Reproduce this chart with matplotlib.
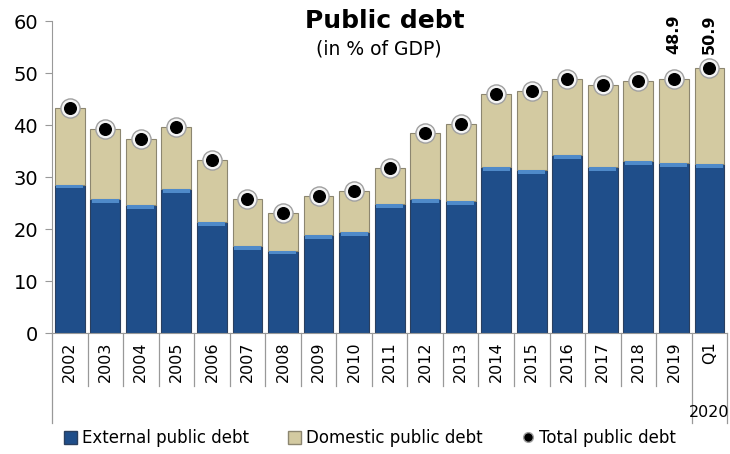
import matplotlib
matplotlib.use("Agg")
import matplotlib.pyplot as plt
import matplotlib.transforms as mtransforms
from matplotlib.lines import Line2D
from matplotlib.patches import Patch
import numpy as np

categories = ["2002", "2003", "2004", "2005", "2006", "2007", "2008", "2009", "2010",
              "2011", "2012", "2013", "2014", "2015", "2016", "2017", "2018", "2019", "Q1"]
external = [28.5, 25.7, 24.6, 27.6, 21.3, 16.7, 15.8, 18.8, 19.4,
            24.8, 25.7, 25.4, 31.9, 31.3, 34.2, 31.9, 33.1, 32.7, 32.5]
total = [43.3, 39.2, 37.4, 39.7, 33.2, 25.8, 23.1, 26.3, 27.3,
         31.8, 38.5, 40.2, 45.9, 46.6, 48.8, 47.6, 48.5, 48.9, 50.9]
domestic = [t - e for t, e in zip(total, external)]
labelled = {17: "48.9", 18: "50.9"}
group_label = "2020"

blue = "#1F4E8A"
blue_hi = "#4F8AC9"
tan = "#D3CAA1"
edge = "#8C8670"

fig = plt.figure(figsize=(7.3, 4.54), dpi=100)
ax = fig.add_axes([0.0712, 0.2665, 0.925, 0.6872])
x = np.arange(len(categories))
w = 0.84
ax.bar(x, external, width=w, color=blue, edgecolor="#2A3F5F", linewidth=0.8, zorder=2)
ax.bar(x, [0.7] * len(x), bottom=[e - 0.7 for e in external], width=w - 0.08,
       color=blue_hi, linewidth=0, zorder=3)
ax.bar(x, domestic, bottom=external, width=w, color=tan, edgecolor=edge, linewidth=0.8, zorder=2)
ax.scatter(x, total, s=190, color="#F4F4F4", edgecolor="#A0A0A0", linewidth=1.0, zorder=4)
ax.scatter(x, total, s=70, color="black", zorder=5)

ax.set_xlim(-0.5, len(categories) - 0.5)
ax.set_ylim(0, 60)
ax.set_yticks(range(0, 61, 10))
ax.tick_params(axis="y", labelsize=14, length=5, color="#999999", pad=5)
ax.set_xticks(x)
ax.set_xticklabels(categories, rotation=90, fontsize=11.5)
ax.tick_params(axis="x", length=0, pad=6)
for s in ["top", "right"]:
    ax.spines[s].set_visible(False)
ax.spines["left"].set_color("#999999")
ax.spines["bottom"].set_color("#999999")

trans = mtransforms.blended_transform_factory(ax.transData, ax.transAxes)
for b in np.arange(-0.5, len(categories), 1.0):
    ylow = -0.29 if b in (-0.5, len(categories) - 1.5, len(categories) - 0.5) else -0.17
    ax.plot([b, b], [0, ylow], transform=trans, color="#999999", lw=0.9, clip_on=False)
ax.text(len(categories) - 1, -0.255, group_label, transform=trans, ha="center", va="center",
        fontsize=11.5)

for i, s in labelled.items():
    ax.text(i, 1.02, s, transform=trans, rotation=90, ha="center", va="top",
            fontsize=11.5, fontweight="bold")

fig.text(0.527, 0.953, "Public debt", ha="center", va="center", fontsize=18, fontweight="bold")
fig.text(0.519, 0.893, "(in % of GDP)", ha="center", va="center", fontsize=13.5)

handles = [Patch(facecolor=blue, edgecolor="#2A3F5F"),
           Patch(facecolor=tan, edgecolor=edge),
           Line2D([], [], marker="o", color="none", markerfacecolor="black",
                  markeredgecolor="#A0A0A0", markersize=7)]
fig.legend(handles, ["External public debt", "Domestic public debt", "Total public debt"],
           loc="center", bbox_to_anchor=(0.507, 0.035), ncol=3, frameon=False,
           fontsize=12, handlelength=0.8, handleheight=0.8, handletextpad=0.3,
           columnspacing=2.3)

fig.savefig("out.png", dpi=100)
